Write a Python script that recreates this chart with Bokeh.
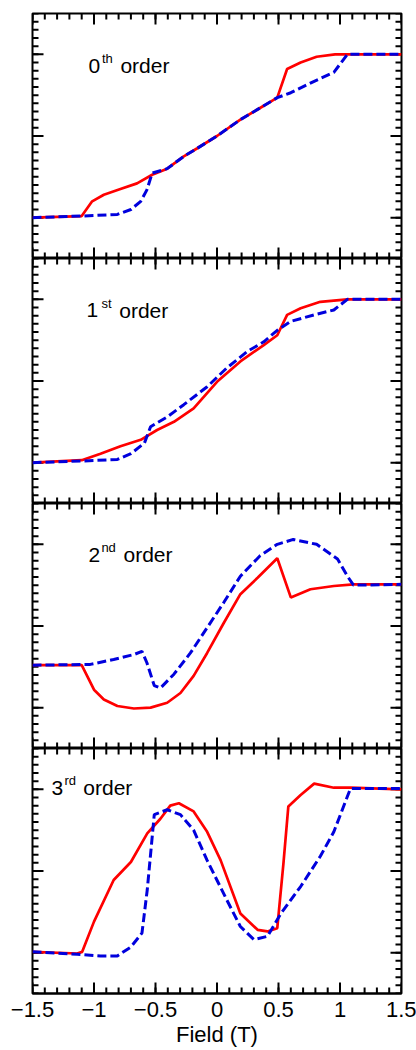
from bokeh.plotting import figure
from bokeh.layouts import column
from bokeh.models import Range1d, FixedTicker, LinearAxis
from bokeh.core.properties import value
from bokeh.embed import file_html
from bokeh.resources import INLINE
import numpy as np

# ---------------- data ----------------
x_ticks = [-1.5, -1.0, -0.5, 0.0, 0.5, 1.0, 1.5]
x_tick_labels = ["\u22121.5", "\u22121", "\u22120.5", "0", "0.5", "1", "1.5"]
y_major = [0.0, 1.0, 2.0]
x_label = "Field (T)"

order_num = ["0", "1", "2", "3"]
order_sup = ["th", "st", "nd", "rd"]
order_word = "order"

# 0th order
red0_x = [-1.5, -1.1, -1.015, -0.92, -0.785, -0.65, -0.527, -0.405, -0.27, -0.16, 0.0, 0.19, 0.38, 0.49, 0.57, 0.68, 0.81, 0.96, 1.5]
red0_y = [0.0, 0.02, 0.2, 0.28, 0.35, 0.42, 0.525, 0.6, 0.75, 0.85, 1.0, 1.2, 1.37, 1.47, 1.82, 1.9, 1.97, 2.0, 2.0]
blue0_x = [-1.5, -1.1, -0.81, -0.70, -0.62, -0.57, -0.527, -0.405, -0.27, -0.16, 0.0, 0.19, 0.38, 0.49, 0.6, 0.79, 0.95, 1.06, 1.5]
blue0_y = [0.0, 0.02, 0.04, 0.1, 0.2, 0.34, 0.545, 0.6, 0.75, 0.85, 1.0, 1.2, 1.37, 1.47, 1.53, 1.67, 1.78, 2.0, 2.0]

# 1st order
red1_x = [-1.5, -1.1, -0.947, -0.785, -0.62, -0.487, -0.35, -0.19, 0.0, 0.19, 0.38, 0.49, 0.57, 0.68, 0.84, 1.06, 1.5]
red1_y = [0.0, 0.03, 0.11, 0.2, 0.28, 0.4, 0.5, 0.665, 0.99, 1.24, 1.44, 1.56, 1.81, 1.89, 1.97, 2.0, 2.0]
blue1_x = [-1.5, -1.1, -0.81, -0.70, -0.59, -0.54, -0.405, -0.27, -0.08, 0.08, 0.245, 0.38, 0.49, 0.6, 0.79, 0.95, 1.06, 1.5]
blue1_y = [0.0, 0.02, 0.04, 0.11, 0.24, 0.44, 0.56, 0.71, 0.93, 1.16, 1.36, 1.48, 1.62, 1.73, 1.81, 1.87, 2.0, 2.0]

# 2nd order
red2_x = [-1.5, -1.1, -1.056, -1.0, -0.92, -0.81, -0.676, -0.54, -0.405, -0.297, -0.19, -0.08, 0.056, 0.19, 0.33, 0.49, 0.6, 0.76, 0.95, 1.11, 1.5]
red2_y = [0.52, 0.52, 0.39, 0.22, 0.1, 0.02, -0.01, 0.0, 0.06, 0.18, 0.39, 0.67, 1.04, 1.39, 1.59, 1.83, 1.35, 1.45, 1.49, 1.51, 1.51]
blue2_x = [-1.5, -1.03, -0.84, -0.676, -0.61, -0.57, -0.51, -0.46, -0.35, -0.216, -0.08, 0.056, 0.19, 0.35, 0.49, 0.62, 0.81, 0.98, 1.06, 1.11, 1.5]
blue2_y = [0.52, 0.53, 0.59, 0.65, 0.69, 0.55, 0.27, 0.24, 0.41, 0.67, 0.98, 1.29, 1.61, 1.86, 2.0, 2.06, 2.0, 1.82, 1.61, 1.5, 1.51]

# 3rd order
red3_x = [-1.5, -1.137, -1.096, -1.0, -0.84, -0.70, -0.567, -0.46, -0.38, -0.31, -0.19, -0.08, 0.03, 0.19, 0.33, 0.41, 0.49, 0.54, 0.58, 0.68, 0.79, 0.95, 1.085, 1.5]
red3_y = [0.01, -0.01, 0.01, 0.38, 0.89, 1.11, 1.46, 1.64, 1.80, 1.83, 1.73, 1.48, 1.13, 0.48, 0.28, 0.26, 0.30, 1.09, 1.79, 1.93, 2.07, 2.02, 2.02, 2.0]
blue3_x = [-1.5, -1.137, -0.947, -0.81, -0.70, -0.61, -0.567, -0.51, -0.405, -0.297, -0.19, -0.08, 0.08, 0.19, 0.30, 0.41, 0.52, 0.68, 0.84, 0.95, 1.085, 1.5]
blue3_y = [0.01, -0.02, -0.04, -0.04, 0.07, 0.24, 0.77, 1.69, 1.75, 1.69, 1.50, 1.13, 0.645, 0.32, 0.16, 0.20, 0.48, 0.81, 1.18, 1.48, 2.01, 2.01]

reds = [(red0_x, red0_y), (red1_x, red1_y), (red2_x, red2_y), (red3_x, red3_y)]
blues = [(blue0_x, blue0_y), (blue1_x, blue1_y), (blue2_x, blue2_y), (blue3_x, blue3_y)]

# label placement (number x, superscript x, word x, baseline y) in data units
label_pos = [
    (-1.045, -0.935, -0.785, 1.86),
    (-1.06, -0.94, -0.795, 1.865),
    (-1.045, -0.94, -0.76, 1.875),
    (-1.345, -1.24, -1.087, 2.02),
]

FONT = "Liberation Sans"
XMIN, XMAX, YMIN, YMAX = -1.5, 1.5, -0.5, 2.5
x_minor = [float(round(v, 3)) for v in np.arange(XMIN, XMAX + 1e-6, 0.1)]
y_minor = [float(round(v, 3)) for v in np.arange(YMIN, YMAX + 1e-6, 0.1)]

plots = []
n = 4
for i in range(n):
    last = (i == n - 1)
    p = figure(frame_width=369, frame_height=245,
               x_range=Range1d(XMIN, XMAX), y_range=Range1d(YMIN, YMAX),
               output_backend="svg", toolbar_location=None,
               x_axis_location=None, y_axis_location=None,
               min_border_left=32, min_border_right=15,
               min_border_top=13 if i == 0 else 0,
               min_border_bottom=57 if last else 0)
    p.xgrid.visible = False
    p.ygrid.visible = False
    p.outline_line_color = "black"
    p.outline_line_width = 2
    p.outline_line_alpha = 1.0
    p.background_fill_color = "white"
    p.border_fill_color = "white"

    if last:
        ax = LinearAxis(ticker=FixedTicker(ticks=x_ticks))
        ax.major_label_overrides = {float(t): s for t, s in zip(x_ticks, x_tick_labels)}
        ax.major_label_text_font = FONT
        ax.major_label_text_font_size = "22px"
        ax.major_label_text_color = "black"
        ax.major_label_standoff = 8
        ax.major_tick_in = 0
        ax.major_tick_out = 0
        ax.minor_tick_in = 0
        ax.minor_tick_out = 0
        ax.major_tick_line_color = None
        ax.minor_tick_line_color = None
        ax.axis_line_color = "black"
        ax.axis_line_width = 2
        ax.axis_label = x_label
        ax.axis_label_text_font = FONT
        ax.axis_label_text_font_size = "22px"
        ax.axis_label_text_font_style = "normal"
        ax.axis_label_text_color = "black"
        ax.axis_label_standoff = 2
        p.add_layout(ax, "below")

    # inward tick marks on all four sides (drawn as screen-length rays)
    tick_w = 2
    minor_len, major_len = 6, 11
    p.ray(x=[XMIN] * len(y_minor), y=y_minor, length=minor_len, angle=0.0, length_units="screen",
          line_color="black", line_width=tick_w)
    p.ray(x=[XMIN] * len(y_major), y=y_major, length=major_len, angle=0.0, length_units="screen",
          line_color="black", line_width=tick_w)
    p.ray(x=[XMAX] * len(y_minor), y=y_minor, length=minor_len, angle=float(np.pi), length_units="screen",
          line_color="black", line_width=tick_w)
    p.ray(x=[XMAX] * len(y_major), y=y_major, length=major_len, angle=float(np.pi), length_units="screen",
          line_color="black", line_width=tick_w)
    p.ray(x=x_minor, y=[YMIN] * len(x_minor), length=minor_len, angle=float(np.pi / 2), length_units="screen",
          line_color="black", line_width=tick_w)
    p.ray(x=x_ticks, y=[YMIN] * len(x_ticks), length=major_len, angle=float(np.pi / 2), length_units="screen",
          line_color="black", line_width=tick_w)
    p.ray(x=x_minor, y=[YMAX] * len(x_minor), length=minor_len, angle=float(-np.pi / 2), length_units="screen",
          line_color="black", line_width=tick_w)
    p.ray(x=x_ticks, y=[YMAX] * len(x_ticks), length=major_len, angle=float(-np.pi / 2), length_units="screen",
          line_color="black", line_width=tick_w)

    rx, ry = reds[i]
    bx, by = blues[i]
    p.line(rx, ry, line_color="#ff0000", line_width=2.7)
    p.line(bx, by, line_color="#0000dd", line_width=3, line_dash="9 4")

    xn, xs, xw, yb = label_pos[i]
    p.text(x=[xn, xw], y=[yb, yb], text=[order_num[i], order_word],
           text_font=value(FONT), text_font_size="21px",
           text_baseline="alphabetic", text_align="left", text_color="black")
    p.text(x=[xs], y=[yb + 0.09], text=[order_sup[i]],
           text_font=value(FONT), text_font_size="13px",
           text_baseline="alphabetic", text_align="left", text_color="black")
    plots.append(p)

layout = column(*plots, spacing=0)
open("out.html", "w").write(file_html(layout, INLINE))
